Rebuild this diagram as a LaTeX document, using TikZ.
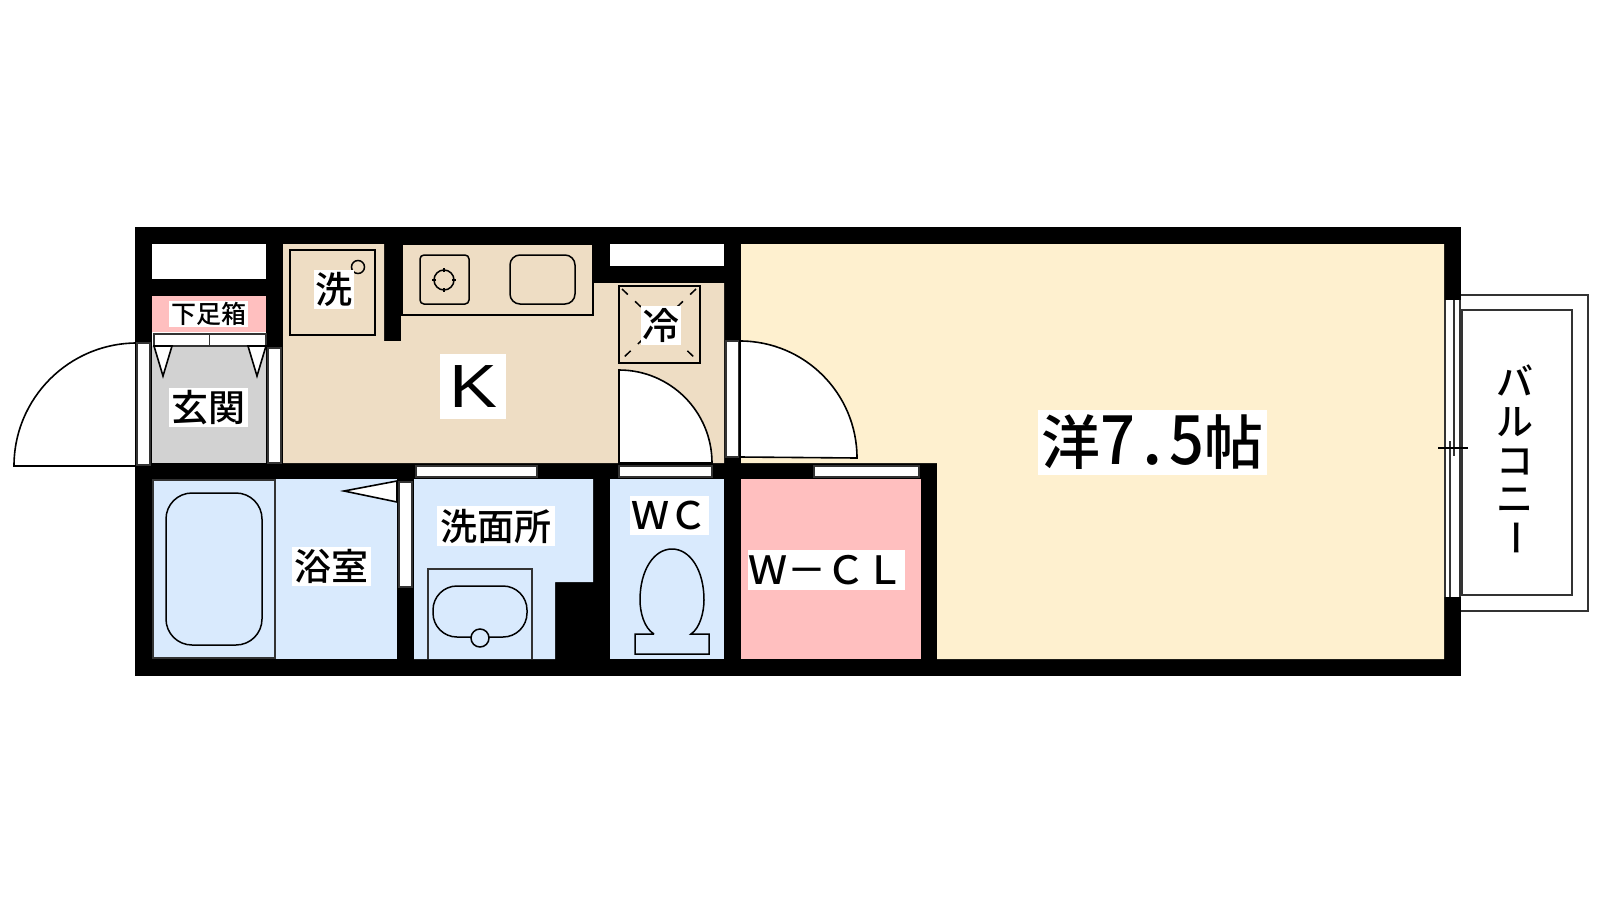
\documentclass[tikz,border=0pt]{standalone}
\usepackage{fontspec}
\newfontfamily\jpfont{Noto Sans CJK JP Medium}
\definecolor{tanfloor}{HTML}{EEDDC4}
\definecolor{creamfloor}{HTML}{FEF0CF}
\definecolor{bluefloor}{HTML}{D9EAFD}
\definecolor{pinkfloor}{HTML}{FFBFBF}
\definecolor{grayfloor}{HTML}{D2D2D2}
\tikzset{
  fixture/.style={draw=black,line width=1.5pt},
  frame/.style={draw=black!80,fill=white,line width=1.1pt},
  doorleaf/.style={draw=black,fill=white,line width=1.6pt},
  roomlabel/.style={fill=white,inner sep=0pt,font=\jpfont\fontsize{#1}{#1}\selectfont,text=black,anchor=center},
  roomlabel/.default=37
}
\begin{document}
\begin{tikzpicture}[x=1pt,y=-1pt]
\useasboundingbox (0,0) rectangle (1600,900);
\fill[white] (0,0) rectangle (1600,900);
% entrance door
\draw[doorleaf] (137,343) arc[start angle=270,end angle=180,radius=123] -- (137,466) -- cycle;
% balcony
\draw[frame,line width=1.4pt] (1455,295) rectangle (1588,611);
\draw[frame,line width=1.4pt] (1462,310) rectangle (1572,595);
% walls
\fill[black] (135,227) rectangle (1461,676);
% floors
\fill[white] (152,244) rectangle (266,279);
\fill[pinkfloor] (152,296) rectangle (266,332);
\fill[white] (152,332) rectangle (266,346);
\fill[grayfloor] (152,346) rectangle (266,463);
\fill[tanfloor] (283,244) -- (384,244) -- (384,341) -- (401,341) -- (401,315) -- (593,315)
  -- (593,283) -- (724,283) -- (724,463) -- (283,463) -- cycle;
\fill[tanfloor] (402,245) rectangle (593,315);
\fill[white] (610,244) rectangle (724,266);
\fill[creamfloor] (741,244) -- (1444,244) -- (1444,659) -- (937,659) -- (937,463) -- (741,463) -- cycle;
\fill[pinkfloor] (741,479) rectangle (921,659);
\fill[bluefloor] (610,479) rectangle (724,659);
\fill[bluefloor] (414,479) -- (593,479) -- (593,582) -- (555,582) -- (555,659) -- (414,659) -- cycle;
\fill[bluefloor] (152,479) rectangle (397,659);
% door frames and thresholds
\draw[frame] (137,343) rectangle (150,465);
\draw[frame] (268,348) rectangle (281,463);
\draw[frame] (416,466) rectangle (537,477);
\draw[frame] (619,466) rectangle (712,477);
\draw[frame] (814,466) rectangle (919,477);
\draw[frame] (399,482) rectangle (412,587);
\draw[frame] (726,341) rectangle (739,457);
% doors
\draw[doorleaf] (619,463) -- (619,370) arc[start angle=-90,end angle=0,radius=93] -- cycle;
\draw[doorleaf] (740,457) -- (740,341) arc[start angle=-90,end angle=0,radius=117] -- cycle;
\draw[doorleaf] (397,481) -- (344,491) -- (397,502) -- cycle;
% shoe box doors
\draw[frame] (154,334) rectangle (209.5,346);
\draw[frame] (209.5,334) rectangle (266,346);
\foreach \x in {154,248}
\draw[doorleaf] (\x,346) -- (\x+18,346) -- (\x+9,376) -- cycle;
% window
\fill[white] (1444,300) rectangle (1461,597);
\foreach \x in {1445,1460}
\draw[black!80,line width=1.1pt] (\x,300) -- (\x,597);
\draw[black!80,line width=1.1pt] (1454,300) -- (1454,456);
\draw[black!80,line width=1.1pt] (1450,441) -- (1450,597);
\draw[black,line width=1.2pt] (1438,448) -- (1468,448);
% washer
\draw[fixture] (290,250) rectangle (375,335);
\draw[fixture] (358,267) circle[radius=6.5];
% kitchen counter
\draw[fixture] (402,245) -- (402,315) -- (593,315) -- (593,245);
\draw[fixture,rounded corners=4] (420,255) rectangle (469,304);
\draw[fixture] (444,280) circle[radius=10];
\foreach \a in {0,90,180,270}
\draw[fixture] (444,280) ++(\a:8) -- ++(\a:4);
\draw[fixture,rounded corners=10] (510,255) rectangle (575,304);
% fridge
\draw[fixture] (619,286) rectangle (700,363);
\draw[fixture,dash pattern=on 8pt off 10pt] (622,289) -- (696,359);
\draw[fixture,dash pattern=on 8pt off 10pt] (696,289) -- (622,359);
% bath tub
\draw[frame,fill=none,line width=1.4pt] (153,480) rectangle (275,658);
\draw[fixture,rounded corners=26] (166,493) rectangle (262,645);
% wash basin
\draw[frame,fill=none,line width=1.4pt] (428,659) -- (428,569) -- (532,569) -- (532,659);
\draw[fixture,rounded corners=24] (433,586) rectangle (527,637);
\draw[fixture,fill=bluefloor] (480,638) circle[radius=9];
% toilet
\draw[fixture,fill=bluefloor] (654,634) -- (635,634) -- (635,654) -- (709,654) -- (709,634) -- (691,634)
  .. controls (700,628) and (704,612) .. (704,600)
  .. controls (704,570) and (690,549) .. (672,549)
  .. controls (654,549) and (640,570) .. (640,600)
  .. controls (640,612) and (644,628) .. (654,634);
% labels
\node[roomlabel=37,minimum width=79pt,minimum height=39pt] (genkan) at (208.5,407.5) {玄関};
\node[roomlabel=25,minimum width=79pt,minimum height=26pt] (getabako) at (208.5,314) {下足箱};
\node[roomlabel=37,minimum width=40pt,minimum height=39pt] (sentaku) at (334,289.5) {洗};
\node[roomlabel=37,minimum width=40pt,minimum height=39pt] (reizouko) at (661,325.5) {冷};
\node[roomlabel=66,minimum width=66pt,minimum height=65pt,font=\fontspec{Liberation Sans}\fontsize{61}{61}\selectfont] (kitchen) at (473,386.5) {\scalebox{1.18}[1]{K}};
\node[roomlabel=37,minimum width=118pt,minimum height=40pt] (senmen) at (496,526) {洗面所};
\node[roomlabel=37,minimum width=79pt,minimum height=39pt] (yokushitsu) at (331.5,566.5) {浴室};
\node[roomlabel=38,minimum width=79pt,minimum height=39pt] (toilet) at (669.5,515.5) {ＷＣ};
\node[roomlabel=39,minimum width=157pt,minimum height=40pt] (closet) at (826.5,570) {Ｗ－ＣＬ};
\node[roomlabel=59,minimum width=229pt,minimum height=65pt] (youshitsu) at (1152.5,442.5) {洋{\fontsize{68}{68}\selectfont\scalebox{0.9}[1]{7}\kern7pt.\kern7pt\scalebox{0.9}[1]{5}}帖};
\foreach \y/\ch/\nm in {380/バ/balb,422/ル/balr,462/コ/balk,500/ニ/baln}
\node[roomlabel=37,fill=none] (\nm) at (1515,\y) {\ch};
\node[roomlabel=37,fill=none,rotate=-90] (balc) at (1511,538) {ー};
\end{tikzpicture}
\end{document}
